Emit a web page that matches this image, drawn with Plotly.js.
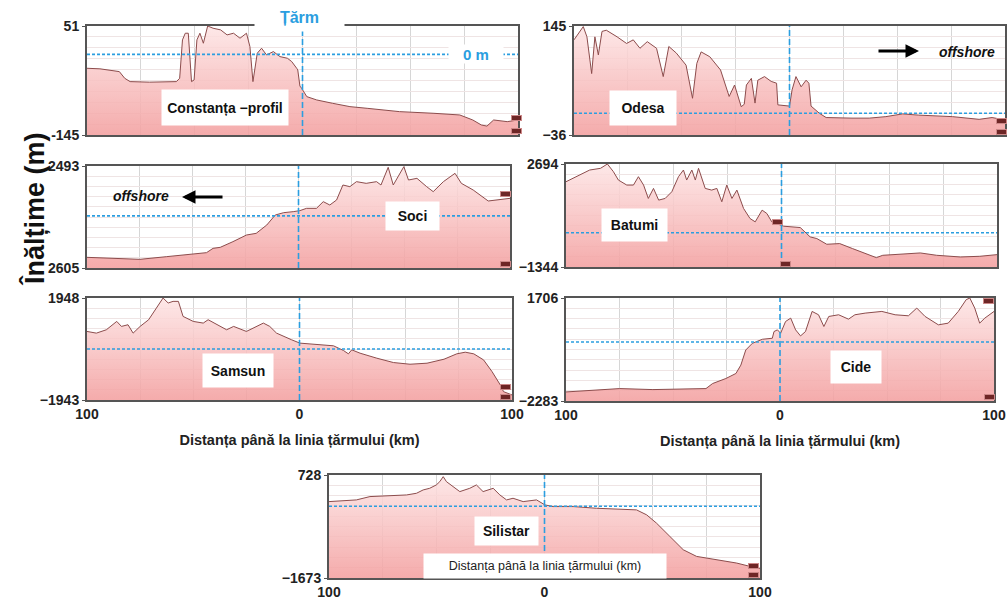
<!DOCTYPE html>
<html><head><meta charset="utf-8">
<script src="https://cdn.plot.ly/plotly-3.0.1.min.js"></script>
<style>html,body{margin:0;padding:0;background:#fff}#chart{width:1007px;height:600px}</style>
</head><body><div id="chart"></div>
<script>
// ---------- DATA ----------
const xConstanta = [-100,-94,-85,-82.5,-80,-71,-58.5,-57,-55.7,-54.4,-53,-51.5,-50.3,-49,-47.6,-46,-44,-41.5,-38,-35,-32,-29,-26,-24.4,-23,-21,-19,-16.7,-13.5,-10.5,-7,-5,-2.7,-2.2,-1.2,-0.4,2,6.6,14,22,30,45,61,73,79,83,85.6,88.7,95,100];
const yConstanta = [-25,-26,-31,-43,-49,-50,-49,-43,26,38,38,-49,-46,26,38,20,51,47,44,35,38,29,38,14,-49,2,11,-1,5,-4,-7,-13,-25,-28,-57,-61,-76,-82,-88,-94,-97,-103,-106,-109,-118,-127,-129,-118,-121,-118];

const xOdesa = [-100,-98,-95.7,-94,-91.8,-90.3,-88.7,-87,-85,-80,-75.6,-72.5,-69.4,-66,-61.7,-58.6,-56,-52.5,-48,-45,-43,-41,-37,-32,-28,-25.5,-23.5,-22.4,-21,-20,-17.7,-16,-14.7,-11.6,-8.5,-6,-5.4,0,1.2,3,5.4,7.7,9,10,13.9,17,29,37,44.7,52.5,60,75.6,88,94,100];
const yOdesa = [122,133,144,127,66,127,97,136,138,127,116,122,108,119,108,61,111,100,80,25,83,102,94,72,28,47,22,11,15,47,58,17,55,61,53,50,14,12,39,61,44,55,50,12,0,-7,-8,-8,-5.5,-1,-3,-5.5,-10,-7,-11];

const xSoci = [-100,-89,-75,-62.5,-53,-43.5,-40.4,-37,-31,-24.6,-20,-15,-11,-7,-2.5,0.6,3.8,8.5,11.7,14.8,18,21,24.3,27.4,32,36.9,39,42.4,44.8,47,49.8,52,56,60.6,63.7,68.5,74,77,82.6,89.7,95,100];
const ySoci = [-2072,-2122,-2172,-2039,-1955,-1839,-1622,-1572,-1289,-956,-872,-456,44,161,211,261,377,377,711,544,794,1543,1460,1710,1627,1710,1543,2426,1543,1960,2460,1793,1876,1460,1210,1710,2126,1627,1293,744,794,877];

const xBatumi = [-100,-95,-89,-84,-80.8,-78,-75.7,-71.8,-68.7,-66.4,-64,-61.8,-59.4,-57,-54,-50.9,-47.8,-45.5,-44,-41.6,-40,-38.5,-35.4,-32.4,-30,-27.7,-25.4,-23,-20.7,-17.6,-14.6,-12.2,-9,-6.8,-4.5,1,8.7,13.3,16.4,21,27,33,39.6,44,47,56.7,64.4,72,83,92,100];
const yBatumi = [1999,2196,2458,2524,2694,2392,2065,1868,1868,2196,1868,1344,1737,1278,1344,1606,2196,2458,2065,2458,2065,2524,1737,1671,1737,1213,1868,1344,1671,951,557,426,885,754,426,255,203,-164,-229,-452,-426,-623,-819,-977,-885,-819,-793,-885,-951,-924,-859];

const xSamsun = [-100,-95.6,-90.9,-86,-83.8,-80.7,-78.3,-75,-71,-68.9,-66.5,-64.2,-61.8,-59.5,-57,-54.8,-50,-45.3,-43,-39,-34.3,-31,-25,-17,-14,-10.8,-7.6,-3.7,0.2,8,16,20.7,23,24.6,28.5,36.4,44.2,52,60,68,74,78,82,86.6,90.6,94.5,96,100];
const ySamsun = [672,608,736,1055,864,928,608,864,1119,1374,1693,1948,1757,1820,1820,1246,1055,991,1119,928,736,864,672,991,864,608,481,353,226,162,124,-55,-182,-30,-157,-348,-514,-578,-539,-387,-182,-119,-182,-412,-859,-1369,-1624,-1750];

const xCide = [-100,-90.4,-74.9,-59.4,-43.9,-34.6,-31.5,-25.3,-20.6,-18.3,-16,-12.9,-8.2,-3.6,-2.8,-1.2,0.3,2.6,5,7.3,9.6,11.9,15,18,20.5,22.8,27.4,32,35,39.8,47.6,53.8,60,63.9,67.8,74,78.6,83.3,87,88.7,91,93.3,95.7,100];
const yCide = [-1932,-1893,-1802,-1841,-1828,-1802,-1607,-1412,-1217,-893,-308,-48,108,147,407,472,342,796,926,472,238,407,1186,1056,602,991,1056,887,1056,1121,1186,1056,1017,1316,991,667,732,1186,1641,1706,1316,732,926,1186];

const xSilistar = [-100,-87.3,-81,-71.8,-64,-59.4,-56.3,-53.3,-50.2,-48.6,-47,-45.5,-42.4,-39.3,-34.7,-31.6,-28.5,-23.8,-20.7,-17.6,-14.6,-9.9,-3.7,0.2,4,13.3,24.1,33.4,42.7,47.4,52,58.2,64.4,70.6,79.9,89.2,95.4,100];
const ySilistar = [108,147,225,240,263,302,380,418,496,573,689,573,457,341,418,496,341,418,263,147,186,108,147,31,-8,-8,-47,-70,-85,-201,-395,-705,-1015,-1170,-1247,-1325,-1403,-1450];

const panelNames = ['Constanța −profil','Odesa','Soci','Batumi','Samsun','Cide','Silistar'];
const yMin = [-145,-36,-2605,-1344,-1943,-2283,-1673];
const yMax = [51,145,2493,2694,1948,1706,728];
const yTickTop = ['51','145','2493','2694','1948','1706','728'];
const yTickBottom = ['-145','−36','2605','−1344','−1943','−2283','−1673'];
const xTickVals = [-100,0,100];
const xTickText = ['100','0','100'];
const xTitleText = 'Distanța până la linia țărmului (km)';
const yTitleText = 'Înălțime (m)';
const shoreText = 'Țărm';
const seaLevelText = '0 m';
const offshoreText = 'offshore';

// ---------- LAYOUT / STYLE ----------
const W = 1007, H = 600;
const px = v => v / W;
const py = v => 1 - v / H;
const FONT = "'Liberation Sans Narrow','Arial Narrow','Liberation Sans',Arial,sans-serif";
const BLUE = '#2b9ee0';

const profilesX = [xConstanta, xOdesa, xSoci, xBatumi, xSamsun, xCide, xSilistar];
const profilesY = [yConstanta, yOdesa, ySoci, yBatumi, ySamsun, yCide, ySilistar];

// [left, right, top, bottom] in pixels
const boxes = [[87,518,26,135],[574,1005,26,135],[87,510,166,268],[566,997,164,267],[87,512,298,400],[566,994,298,401],[329,760,475,578]];
const showXLabels = [false,false,false,false,true,true,true];
const showXTitle = [false,false,false,false,true,true,false];
// label boxes: [cx, cy, w, h]
const labelBoxes = [[225,108,124,33],[643,108,64,32],[412,216,51,26],[634,225,63,30],[238,370,68,31],[856,367,48,30],[506,531,61,26]];

const traces = [];
const layout = {
  width: W, height: H,
  margin: {l:0, r:0, t:0, b:0},
  paper_bgcolor: '#fff', plot_bgcolor: '#fff',
  showlegend: false, hovermode: false,
  font: {family: FONT, color: '#222'},
  shapes: [], annotations: []
};

for (let i = 0; i < 7; i++) {
  const n = i === 0 ? '' : String(i + 1);
  const xa = 'x' + n, ya = 'y' + n;
  const xs = profilesX[i], ys = profilesY[i];
  const b = boxes[i];
  traces.push({
    x: [xs[0], xs[xs.length - 1]], y: [yMin[i], yMin[i]],
    xaxis: xa, yaxis: ya, mode: 'lines', line: {width: 0}, hoverinfo: 'skip'
  });
  traces.push({
    x: xs, y: ys, xaxis: xa, yaxis: ya, mode: 'lines',
    line: {color: '#8c4c4c', width: 1},
    fill: 'tonexty',
    fillcolor: 'rgba(247,185,185,0.8)',
    fillgradient: {type: 'vertical', start: yMin[i], stop: yMax[i],
      colorscale: [[0, 'rgba(243,160,160,0.88)'], [1, 'rgba(253,228,228,0.85)']]}
  });
  layout['xaxis' + n] = {
    domain: [px(b[0]), px(b[1])], anchor: ya,
    range: [-100, 100], fixedrange: true,
    tickmode: 'array', tickvals: xTickVals, ticktext: xTickText,
    showticklabels: showXLabels[i], ticks: '', ticklabeloverflow: 'allow',
    tickfont: {family: FONT, size: 14, color: '#222', weight: 'bold'},
    showgrid: false, zeroline: false,
    minor: {tickmode: 'linear', tick0: -100, dtick: 25, showgrid: true, gridcolor: '#d6d6d6', gridwidth: 1},
    showline: true, mirror: true, linecolor: '#555', linewidth: 2,
    title: showXTitle[i] ? {text: xTitleText, standoff: 14,
      font: {family: FONT, size: 14.5, color: '#222', weight: 'bold'}} : {text: ''}
  };
  layout['yaxis' + n] = {
    domain: [py(b[3]), py(b[2])], anchor: xa,
    range: [yMin[i], yMax[i]], fixedrange: true,
    tickmode: 'array', tickvals: [yMin[i], yMax[i]], ticktext: [yTickBottom[i], yTickTop[i]],
    ticks: 'outside', ticklen: 3, tickcolor: '#555', ticklabeloverflow: 'allow',
    tickfont: {family: FONT, size: 14, color: '#222', weight: 'bold'},
    showgrid: false, zeroline: false,
    minor: {tickmode: 'linear', tick0: yMin[i], dtick: (yMax[i] - yMin[i]) / 10, showgrid: true, gridcolor: '#efe4e4', gridwidth: 1},
    showline: true, mirror: true, linecolor: '#555', linewidth: 2
  };
  // shoreline (0 km) and sea level (0 m)
  layout.shapes.push({type: 'line', xref: xa, yref: ya + ' domain', x0: 0, x1: 0, y0: 0, y1: 1,
    line: {color: BLUE, width: 1.6, dash: '6px,3px'}});
  layout.shapes.push({type: 'line', xref: xa + ' domain', yref: ya, x0: 0, x1: 1, y0: 0, y1: 0,
    line: {color: BLUE, width: 1.6, dash: '3px,2px'}});
  // name label box
  const lb = labelBoxes[i];
  layout.annotations.push({xref: 'paper', yref: 'paper', x: px(lb[0]), y: py(lb[1]),
    xanchor: 'center', yanchor: 'middle', showarrow: false, text: panelNames[i],
    width: lb[2], height: lb[3], bgcolor: '#fff',
    font: {family: FONT, size: 14, color: '#111', weight: 'bold'}});
}

// Y title
layout.annotations.push({xref: 'paper', yref: 'paper', x: px(34), y: py(209), xanchor: 'center', yanchor: 'middle',
  showarrow: false, textangle: -90, text: yTitleText,
  font: {family: FONT, size: 27, color: '#111', weight: 'bold'}});
// Țărm label
layout.annotations.push({xref: 'paper', yref: 'paper', x: px(299), y: py(17), xanchor: 'center', yanchor: 'middle',
  showarrow: false, text: shoreText, width: 87, height: 26, bgcolor: '#fff',
  font: {family: FONT, size: 16, color: BLUE, weight: 'bold'}});
// 0 m label
layout.annotations.push({xref: 'paper', yref: 'y', x: px(476), y: 0, xanchor: 'center', yanchor: 'middle',
  showarrow: false, text: seaLevelText, width: 52, height: 16, bgcolor: '#fff',
  font: {family: FONT, size: 15, color: BLUE, weight: 'bold'}});
// offshore (Odesa)
layout.annotations.push({xref: 'paper', yref: 'paper', x: px(967), y: py(52), xanchor: 'center', yanchor: 'middle',
  showarrow: false, text: offshoreText,
  font: {family: FONT, size: 14, color: '#111', weight: 'bold', style: 'italic'}});
layout.annotations.push({xref: 'paper', yref: 'paper', x: px(919), y: py(51), ax: -42, ay: 0,
  showarrow: true, arrowhead: 2, arrowsize: 0.9, arrowwidth: 3, arrowcolor: '#000', text: ''});
// offshore (Soci)
layout.annotations.push({xref: 'paper', yref: 'paper', x: px(141), y: py(196), xanchor: 'center', yanchor: 'middle',
  showarrow: false, text: offshoreText,
  font: {family: FONT, size: 14, color: '#111', weight: 'bold', style: 'italic'}});
layout.annotations.push({xref: 'paper', yref: 'paper', x: px(182), y: py(197), ax: 42, ay: 0,
  showarrow: true, arrowhead: 2, arrowsize: 0.9, arrowwidth: 3, arrowcolor: '#000', text: ''});
// Silistar axis title inside plot
layout.annotations.push({xref: 'paper', yref: 'paper', x: px(545), y: py(566), xanchor: 'center', yanchor: 'middle',
  showarrow: false, text: xTitleText, width: 240, height: 22, bgcolor: '#fff',
  font: {family: FONT, size: 12.5, color: '#222'}});
// small dark-red end markers
const chips = [[516,118],[516,131],[1001,121],[1001,132],[505,194],[505,264],[777,222],[785,264],[505,387],[505,397],[988,301],[989,397],[753,566],[753,575]];
chips.forEach(c => layout.annotations.push({xref: 'paper', yref: 'paper', x: px(c[0]), y: py(c[1]),
  xanchor: 'center', yanchor: 'middle', showarrow: false, text: ' ', width: 9, height: 4,
  bgcolor: '#6e2626', bordercolor: '#c88', borderwidth: 1, borderpad: 0, font: {size: 4}}));

Plotly.newPlot('chart', traces, layout, {staticPlot: true, displayModeBar: false});
</script></body></html>
